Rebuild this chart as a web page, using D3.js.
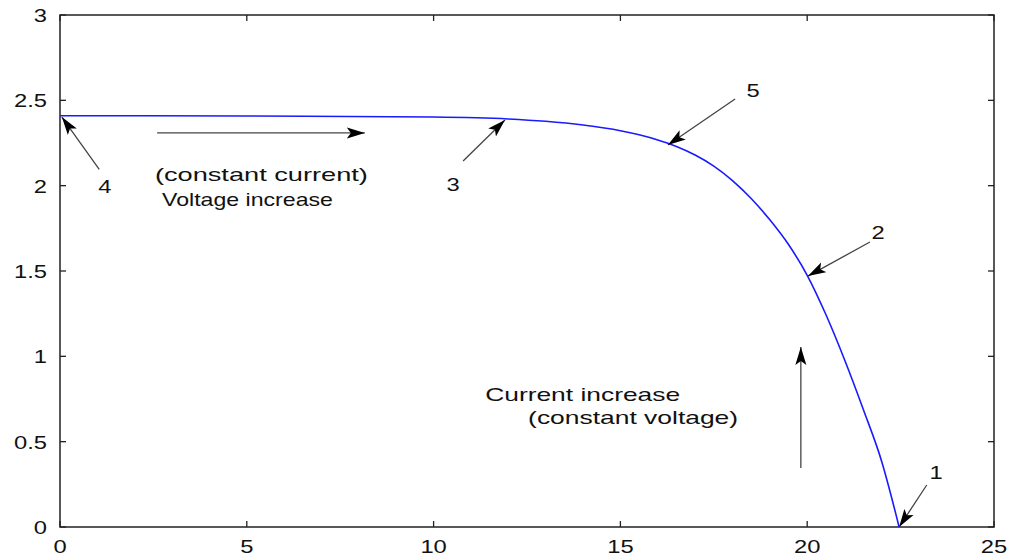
<!DOCTYPE html>
<meta charset='utf-8'>
<style>
body { margin: 0; background: #fff; }
text { font-family: 'Liberation Sans', Arial, sans-serif; fill: #111; }
path.curve { fill: none; stroke: #1a1aff; stroke-width: 1.6px; }
line.note { stroke: #444; stroke-width: 1.3px; }
</style>
<svg width="1011" height="558"></svg>
<script src="https://cdn.jsdelivr.net/npm/d3@7"></script>
<script>

// I-V curve (voltage, current)
const voltage = [0, 5, 10, 12, 13, 14, 15, 15.5, 16, 16.5, 17, 17.5, 18, 18.5, 19, 19.5, 20, 20.5, 21, 21.5, 22, 22.46];
const current = [2.41, 2.408, 2.402, 2.391, 2.377, 2.355, 2.322, 2.298, 2.268, 2.23, 2.18, 2.115, 2.03, 1.925, 1.80, 1.655, 1.475, 1.245, 0.98, 0.69, 0.38, 0];

const xTicks = [0, 5, 10, 15, 20, 25];
const yTicks = [0, 0.5, 1, 1.5, 2, 2.5, 3];

// arrows: tail -> tip, in data units
const arrows = [
  { label: '4', from: [1.05, 2.096], to: [0.05, 2.402], at: [1.2, 2.0] },
  { label: '3', from: [10.79, 2.145], to: [11.91, 2.385], at: [10.52, 2.01] },
  { label: '5', from: [18.07, 2.508], to: [16.27, 2.238], at: [18.55, 2.56] },
  { label: '2', from: [21.68, 1.67], to: [20.02, 1.47], at: [21.9, 1.73] },
  { label: '1', from: [23.2, 0.246], to: [22.46, 0.0], at: [23.45, 0.32] },
  { label: '', from: [2.6, 2.309], to: [8.16, 2.309] },
  { label: '', from: [19.83, 0.346], to: [19.83, 1.055] }
];

const notes = [
  { text: '(constant  current)', at: [2.54, 2.03], len: 213 },
  { text: 'Voltage increase', at: [2.73, 1.88], len: 171 },
  { text: 'Current increase', at: [11.38, 0.74], len: 195 },
  { text: '(constant  voltage)', at: [12.53, 0.605], len: 210 }
];

const svg = d3.select('svg');
const pl = 60, pr = 994, pt = 15, pb = 527;
const x = d3.scaleLinear().domain([0, 25]).range([pl, pr]);
const y = d3.scaleLinear().domain([0, 3]).range([pb, pt]);
const stretch = 'scale(1.25,1)';

svg.append('defs').append('marker')
  .attr('id', 'head')
  .attr('viewBox', '0 0 18 12')
  .attr('refX', 18).attr('refY', 6)
  .attr('markerWidth', 18).attr('markerHeight', 12)
  .attr('markerUnits', 'userSpaceOnUse')
  .attr('orient', 'auto')
  .append('path').attr('d', 'M0,0.5 L18,6 L0,11.5 L4,6 Z').attr('fill', '#000');

// ticks on all four sides, pointing inwards
const tk = svg.append('g').attr('stroke', '#222').attr('stroke-width', 1.3);
xTicks.forEach(v => {
  tk.append('line').attr('x1', x(v)).attr('x2', x(v)).attr('y1', pb).attr('y2', pb - 6);
  tk.append('line').attr('x1', x(v)).attr('x2', x(v)).attr('y1', pt).attr('y2', pt + 6);
});
yTicks.forEach(v => {
  tk.append('line').attr('x1', pl).attr('x2', pl + 6).attr('y1', y(v)).attr('y2', y(v));
  tk.append('line').attr('x1', pr).attr('x2', pr - 6).attr('y1', y(v)).attr('y2', y(v));
});

svg.append('rect')
  .attr('x', pl).attr('y', pt)
  .attr('width', pr - pl).attr('height', pb - pt)
  .attr('fill', 'none').attr('stroke', '#222').attr('stroke-width', 1.5);

xTicks.forEach(v => {
  svg.append('g').attr('transform', `translate(${x(v)},553) ${stretch}`)
    .append('text').attr('text-anchor', 'middle').style('font-size', '19px').text(d3.format('')(v));
});
yTicks.forEach(v => {
  svg.append('g').attr('transform', `translate(47,${y(v) + 7}) ${stretch}`)
    .append('text').attr('text-anchor', 'end').style('font-size', '19px').text(d3.format('')(v));
});

const line = d3.line().x((d, i) => x(voltage[i])).y((d, i) => y(current[i])).curve(d3.curveMonotoneX);
svg.append('path').attr('class', 'curve').attr('d', line(voltage));

arrows.forEach(a => {
  svg.append('line').attr('class', 'note')
    .attr('x1', x(a.from[0])).attr('y1', y(a.from[1]))
    .attr('x2', x(a.to[0])).attr('y2', y(a.to[1]))
    .attr('marker-end', 'url(#head)');
  if (a.label) {
    svg.append('g').attr('transform', `translate(${x(a.at[0])},${y(a.at[1]) + 7}) ${stretch}`)
      .append('text').attr('text-anchor', 'middle').style('font-size', '19px').text(a.label);
  }
});

notes.forEach(n => {
  svg.append('text')
    .attr('x', x(n.at[0])).attr('y', y(n.at[1]))
    .attr('textLength', n.len).attr('lengthAdjust', 'spacingAndGlyphs')
    .style('font-size', '19px')
    .text(n.text);
});

</script>
